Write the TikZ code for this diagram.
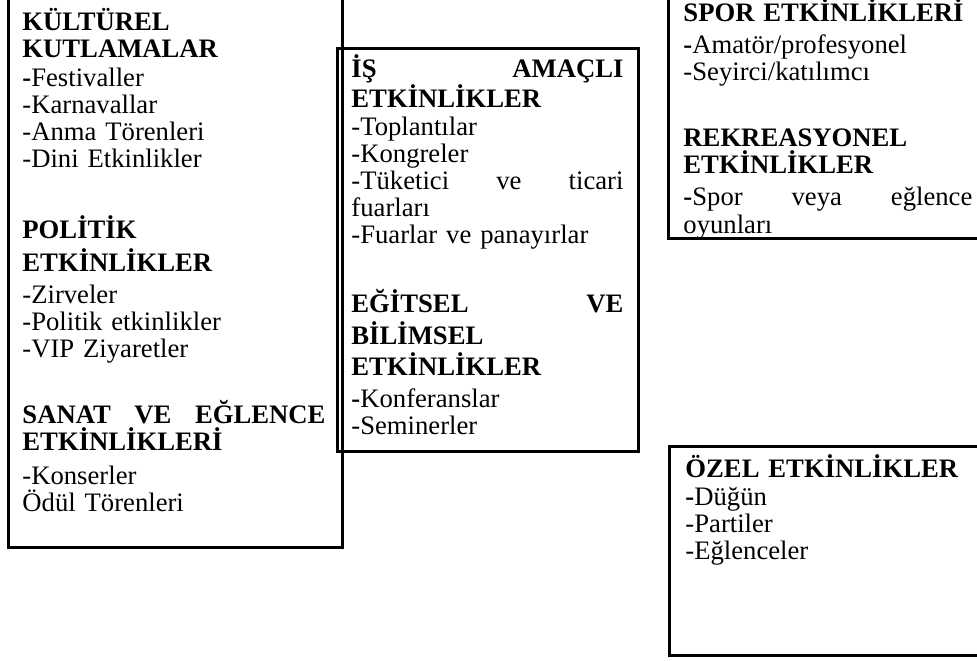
\documentclass[tikz,border=0pt]{standalone}
\usepackage{fontspec}
\setmainfont{Liberation Serif}
\tikzset{
  frame/.style={line width=1.35pt},
  list/.style={anchor=base west, inner sep=0pt, align=left,
    font={\fontsize{12}{12.15}\selectfont\lineskiplimit=-\maxdimen}},
}
\begin{document}
\begin{tikzpicture}[x=0.45pt, y=-0.45pt]
  \useasboundingbox (0,0) rectangle (977,660);
  \clip (0,0) rectangle (977,660);
  % frames
  \draw[frame] (8,-20) rectangle (342,547);
  \draw[frame] (337,48) rectangle (638,451);
  \draw[frame] (668,-20) rectangle (1000,238);
  \draw[frame] (669,446) rectangle (1000,655);
  % texts
  \node[list, text width=136.4pt] (kultur) at (22,30) {%
    \textbf{KÜLTÜREL}\\
    \textbf{KUTLAMALAR}\\[0.9pt]
    \textbf{-}Festivaller\\
    -Karnavallar\\
    -Anma Törenleri\\
    -Dini Etkinlikler\\[19.8pt]
    \textbf{POLİTİK}\\[2.7pt]
    \textbf{ETKİNLİKLER}\\[2.25pt]
    -Zirveler\\
    -Politik etkinlikler\\
    -VIP Ziyaretler\\[17.55pt]
    \textbf{SANAT\hfill VE\hfill EĞLENCE}\\
    \textbf{ETKİNLİKLERİ}\\[3.15pt]
    -Konserler\\
    Ödül Törenleri};
  \node[list, text width=122.4pt] (is) at (351,77) {%
    \textbf{İŞ\hfill AMAÇLI}\\[1.35pt]
    \textbf{ETKİNLİKLER}\\[0.45pt]
    -Toplantılar\\
    -Kongreler\\
    -Tüketici\hfill ve\hfill ticari\\
    fuarları\\
    -Fuarlar ve panayırlar\\[18.9pt]
    \textbf{EĞİTSEL\hfill VE}\\[2.25pt]
    \textbf{BİLİMSEL}\\[1.8pt]
    \textbf{ETKİNLİKLER}\\[2.25pt]
    \textbf{-}Konferanslar\\
    -Seminerler};
  \node[list, text width=130pt] (spor) at (683,21) {%
    \textbf{SPOR ETKİNLİKLERİ}\\[2.25pt]
    \textbf{-}Amatör/profesyonel\\
    -Seyirci/katılımcı\\[17.55pt]
    \textbf{REKREASYONEL}\\
    \textbf{ETKİNLİKLER}\\[2.25pt]
    \textbf{-}Spor\hfill veya\hfill eğlence\\[0.45pt]
    oyunları};
  \node[list, text width=130pt] (ozel) at (685,477) {%
    \textbf{ÖZEL ETKİNLİKLER}\\[0.45pt]
    \textbf{-}Düğün\\
    -Partiler\\
    -Eğlenceler};
\end{tikzpicture}
\end{document}
